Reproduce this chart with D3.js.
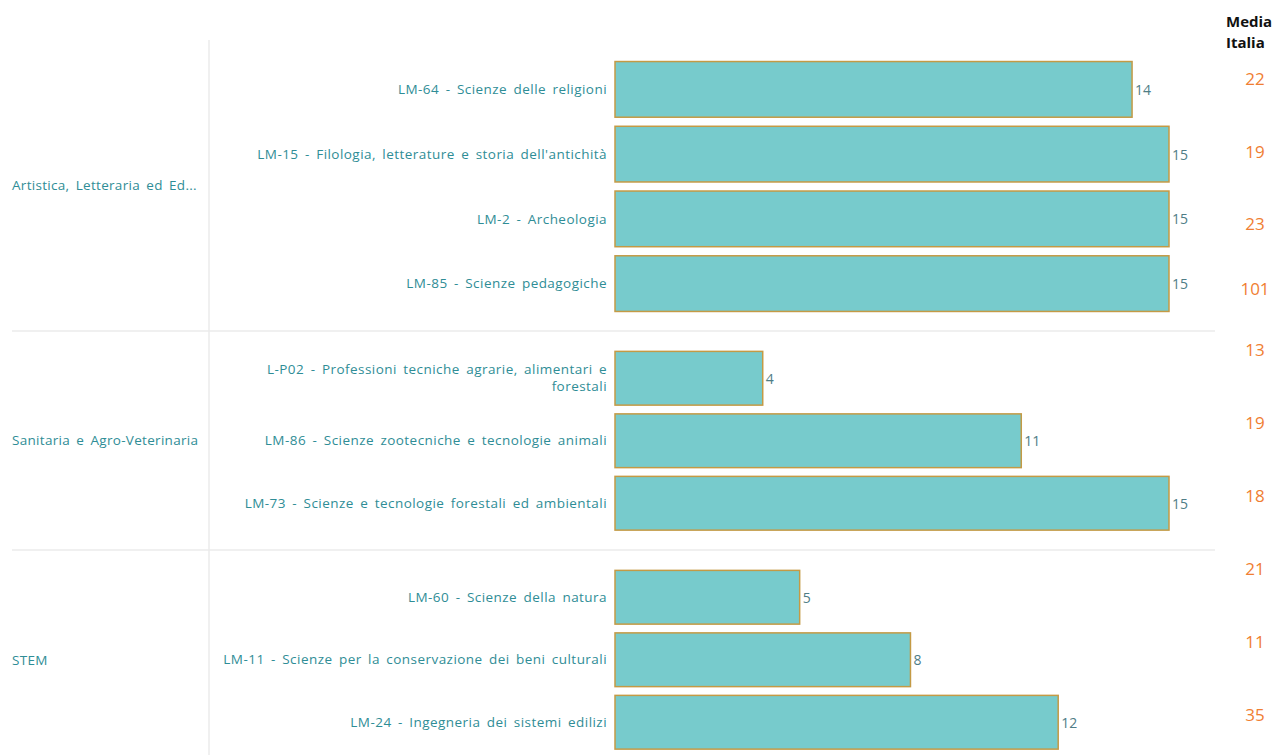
<!DOCTYPE html>
<html>
<head>
<meta charset="utf-8">
<script src="https://cdn.jsdelivr.net/npm/d3@7"></script>
<style>
  body { margin: 0; background: #fff; }
  svg { display: block; }
</style>
</head>
<body>
<div id="chart-container"></div>
<script>
// data
const sections = ["Artistica, Letteraria ed Ed...", "Sanitaria e Agro-Veterinaria", "STEM"];
const courses = [
    ["LM-64 - Scienze delle religioni",
     "LM-15 - Filologia, letterature e storia dell'antichità",
     "LM-2 - Archeologia",
     "LM-85 - Scienze pedagogiche"],
    ["L-P02 - Professioni tecniche agrarie, alimentari e|forestali",
     "LM-86 - Scienze zootecniche e tecnologie  animali",
     "LM-73 - Scienze e tecnologie forestali ed ambientali"],
    ["LM-60 - Scienze della natura",
     "LM-11 - Scienze per la conservazione dei beni culturali",
     "LM-24 - Ingegneria dei sistemi edilizi"]
];
const values = [[14, 15, 15, 15], [4, 11, 15], [5, 8, 12]];
const mediaItalia = [[22, 19, 23, 101], [13, 19, 18], [21, 11, 35]];

const width = 1286;
const height = 755;

// section panes (top / bottom of each block)
const sectionTops = [40, 331, 550];
const sectionBottoms = [331, 550, 770];

const x = d3.scaleLinear()
    .domain([0, 15])
    .range([615, 1169]);

const svg = d3.create("svg")
    .attr("width", width)
    .attr("height", height)
    .attr("viewBox", [0, 0, width, height]);

const teal = "#2f8d96";
const labelFont = g => g
    .attr("font-family", "'Open Sans', sans-serif")
    .attr("font-size", 13.5)
    .attr("letter-spacing", 0.45)
    .attr("word-spacing", 2.5);

// grid lines
svg.append("line")
    .attr("x1", 209).attr("x2", 209)
    .attr("y1", 40).attr("y2", height)
    .attr("stroke", "#ebebeb").attr("stroke-width", 1.5);

svg.append("g")
    .selectAll("line")
    .data(sectionTops.slice(1))
    .join("line")
    .attr("x1", 12).attr("x2", 1215)
    .attr("y1", d => d).attr("y2", d => d)
    .attr("stroke", "#ebebeb").attr("stroke-width", 1.5);

// header
svg.append("text")
    .attr("x", 1226)
    .attr("font-family", "'Open Sans', sans-serif")
    .attr("font-weight", "bold")
    .attr("font-size", 15)
    .attr("fill", "#111")
    .selectAll("tspan")
    .data(["Media", "Italia"])
    .join("tspan")
    .attr("x", 1226)
    .attr("y", (d, i) => 27 + i * 21)
    .text(d => d);

sections.forEach((sec, s) => {
    // bars use a slightly different inner extent than the pane
    const barTop = s === 0 ? 57 : sectionTops[s] + 16;
    const barBottom = s === 0 ? 316 : barTop + courses[s].length * 62.5;
    const y = d3.scaleBand()
        .domain(courses[s])
        .range([barTop, barBottom])
        .paddingInner(0.14)
        .paddingOuter(0.07);

    const rows = courses[s].map((c, i) => ({course: c, value: values[s][i], media: mediaItalia[s][i]}));
    const g = svg.append("g");

    // section label
    g.append("text")
        .attr("x", 12)
        .attr("y", (sectionTops[s] + sectionBottoms[s]) / 2)
        .attr("dy", "0.35em")
        .call(labelFont)
        .attr("letter-spacing", 0.3)
        .attr("fill", teal)
        .text(sec);

    // bars
    g.append("g")
        .selectAll("rect")
        .data(rows)
        .join("rect")
        .attr("x", x(0))
        .attr("y", d => y(d.course))
        .attr("width", d => x(d.value) - x(0))
        .attr("height", y.bandwidth())
        .attr("fill", "#77cbcc")
        .attr("stroke", "#c49a45")
        .attr("stroke-width", 1.5);

    // course labels (| marks a line break)
    g.append("g")
        .selectAll("text")
        .data(rows)
        .join("text")
        .attr("text-anchor", "end")
        .call(labelFont)
        .attr("fill", teal)
        .each(function (d) {
            const lines = d.course.split("|");
            const cy = y(d.course) + y.bandwidth() / 2;
            d3.select(this).selectAll("tspan")
                .data(lines)
                .join("tspan")
                .attr("x", 607)
                .attr("y", (l, i) => cy - (lines.length - 1) * 8.5 + i * 17)
                .attr("dy", "0.35em")
                .text(l => l);
        });

    // value labels
    g.append("g")
        .selectAll("text")
        .data(rows)
        .join("text")
        .attr("x", d => x(d.value) + 3)
        .attr("y", d => y(d.course) + y.bandwidth() / 2)
        .attr("dy", "0.4em")
        .attr("font-family", "'Open Sans', sans-serif")
        .attr("font-size", 14)
        .attr("fill", "#4f7d86")
        .text(d => d.value);

    // media italia column
    const ym = d3.scaleBand()
        .domain(courses[s])
        .range([sectionTops[s], s === 2 ? 769 : sectionBottoms[s]]);
    const off = s === 0 ? 39 : 19;
    g.append("g")
        .selectAll("text")
        .data(rows)
        .join("text")
        .attr("x", 1255)
        .attr("y", (d, i) => ym(d.course) + off - (s === 0 && i === 3 ? 8 : 0))
        .attr("dy", "0.35em")
        .attr("text-anchor", "middle")
        .attr("font-family", "'Open Sans', sans-serif")
        .attr("font-size", 17)
        .attr("fill", "#f07e32")
        .text(d => d.media);
});

d3.select("#chart-container").node().appendChild(svg.node());
</script>
</body>
</html>
